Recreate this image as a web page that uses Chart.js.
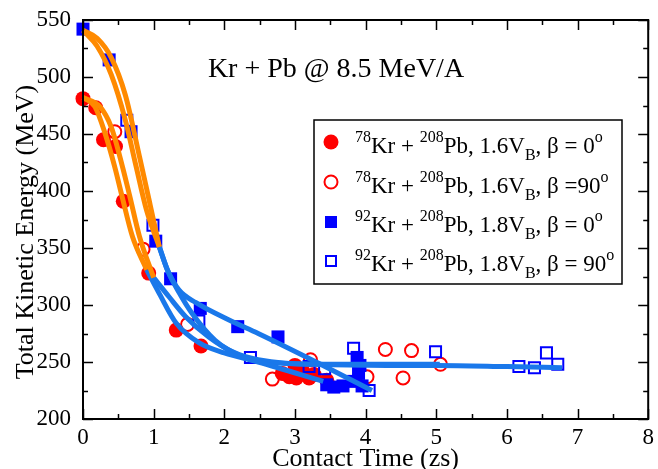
<!DOCTYPE html>
<html><head><meta charset="utf-8">
<script src="https://cdn.jsdelivr.net/npm/chart.js@4.4.0/dist/chart.umd.min.js"></script>
<style>html,body{margin:0;padding:0;background:#fff;}canvas{display:block;}</style>
</head><body>
<canvas id="c" width="658" height="469"></canvas>
<script>
// ---- data ----
const xRange = [0, 8];
const yRange = [200, 550];
const xStep = 1, yStep = 50;

const redFilled = [[0,481],[0.18,473],[0.29,445],[0.46,439],[0.57,391],[0.93,328],[1.32,278],[1.67,264],
  [2.82,240],[2.92,237],[3.0,247],[3.02,236],[3.12,241],[3.2,236],[3.27,239],[3.45,234]];
const redOpen = [[0.45,452],[0.85,349],[1.48,283],[2.68,235],[3.22,252],[4.02,237],[4.28,261],[4.53,236],[4.65,260],[5.06,248]];
const blueFilled = [[0,542],[0.37,515],[0.68,452],[1.03,356],[1.24,323],[1.66,297],[2.19,281],[2.76,272],
  [3.45,230],[3.55,228],[3.68,229],[3.83,233],[3.88,254],[3.92,247],[3.9,240],[3.95,229]];
const blueOpen = [[0.62,462],[0.99,370],[1.64,286],[2.37,254],[3.2,246],[3.42,244],[3.83,262],[4.05,225],
  [4.99,259],[6.17,246],[6.39,245],[6.56,258],[6.72,248]];

// fitted curves (orange: early part, blue: late part)
const fitR0Early = [[0,482],[0.17,474],[0.31,451],[0.45,421],[0.55,396],[0.7,360],[0.9,331]];
const fitR0Late = [[0.9,331],[1.08,310],[1.32,284],[1.64,267],[2.0,258],[2.48,250],[3.4,233]];
const fitR90Early = [[0,482],[0.24,474],[0.4,456],[0.56,421],[0.66,396],[0.8,360],[1.0,324]];
const fitR90Late = [[1.0,324],[1.22,307],[1.45,290],[1.78,272],[2.15,258],[2.48,252],[3.3,248],[4.3,248],[5.05,248]];
const fitB0Early = [[0,541],[0.2,534],[0.4,517],[0.6,484],[0.8,430],[0.95,388],[1.08,351]];
const fitB0Late = [[1.08,351],[1.2,330],[1.36,313],[1.6,302],[2.06,287],[2.48,275],[3.3,250],[4.09,225]];
const fitB90Early = [[0,541],[0.2,527],[0.4,502],[0.6,462],[0.75,422],[0.9,383],[1.08,351]];
const fitB90Late = [[1.08,351],[1.2,330],[1.36,311],[1.54,293],[1.87,269],[2.24,255],[2.48,251],[3.3,248],[4.3,247],[5,247],[6,246],[6.78,245]];

const chartTitle = 'Kr + Pb @ 8.5 MeV/A';
const xTitle = 'Contact Time (zs)';
const yTitle = 'Total Kinetic Energy (MeV)';
const legendRows = [
  [['78','sup'],['Kr + '],['208','sup'],['Pb, 1.6V'],['B','sub'],[', β = 0'],['o','sup']],
  [['78','sup'],['Kr + '],['208','sup'],['Pb, 1.6V'],['B','sub'],[', β =90'],['o','sup']],
  [['92','sup'],['Kr + '],['208','sup'],['Pb, 1.8V'],['B','sub'],[', β = 0'],['o','sup']],
  [['92','sup'],['Kr + '],['208','sup'],['Pb, 1.8V'],['B','sub'],[', β = 90'],['o','sup']]
];

// ---- styles ----
const RED = '#ff0000', BLUE = '#0000ff', ORANGE = '#ff8a00', LBLUE = '#1a78ea';
const SERIF = '"Liberation Serif", "Times New Roman", serif';
const pts = a => a.map(p => ({x: p[0], y: p[1]}));

function fit(data, color) {
  return {type: 'scatter', data: pts(data), showLine: true, borderColor: color, borderWidth: 5,
    pointRadius: 0, pointHoverRadius: 0, cubicInterpolationMode: 'monotone', order: 0, clip: false};
}
function marks(data, style, filled, color, r, order) {
  return {type: 'scatter', data: pts(data), pointStyle: style, pointRadius: r, pointHoverRadius: r,
    backgroundColor: filled ? color : 'rgba(0,0,0,0)', borderColor: color, borderWidth: filled ? 0 : 2,
    order: order, clip: false};
}

const decor = {
  id: 'decor',
  afterDraw(chart) {
    const ctx = chart.ctx, a = chart.chartArea, xs = chart.scales.x, ys = chart.scales.y;
    ctx.save();
    ctx.strokeStyle = '#000'; ctx.lineWidth = 2;
    ctx.strokeRect(a.left, a.top, a.right - a.left, a.bottom - a.top);
    ctx.lineWidth = 1.5;
    ctx.beginPath();
    for (let v = xRange[0]; v <= xRange[1] + 1e-9; v += xStep / 2) {
      const px = Math.round(xs.getPixelForValue(v)) + 0.5;
      const L = (Math.abs(v - Math.round(v)) < 1e-9) ? 10 : 5;
      ctx.moveTo(px, a.bottom); ctx.lineTo(px, a.bottom - L);
      ctx.moveTo(px, a.top); ctx.lineTo(px, a.top + L);
    }
    for (let v = yRange[0]; v <= yRange[1] + 1e-9; v += yStep / 2) {
      const py = Math.round(ys.getPixelForValue(v)) + 0.5;
      const L = (v % yStep === 0) ? 10 : 5;
      ctx.moveTo(a.left, py); ctx.lineTo(a.left + L, py);
      ctx.moveTo(a.right, py); ctx.lineTo(a.right - L, py);
    }
    ctx.stroke();

    ctx.fillStyle = '#000';
    ctx.textAlign = 'center'; ctx.textBaseline = 'alphabetic';
    ctx.font = '28px ' + SERIF;
    ctx.fillText(chartTitle, 336, 77);
    ctx.font = '26px ' + SERIF;
    ctx.fillText(xTitle, (a.left + a.right) / 2, 466);
    ctx.save();
    ctx.translate(33, 232); ctx.rotate(-Math.PI / 2);
    ctx.fillText(yTitle, 0, 0);
    ctx.restore();

    // legend
    const bx = 314, by = 120, bw = 308, bh = 164;
    ctx.fillStyle = '#fff'; ctx.fillRect(bx, by, bw, bh);
    ctx.strokeStyle = '#000'; ctx.lineWidth = 1.5; ctx.strokeRect(bx, by, bw, bh);
    const rowsY = [142, 182, 222, 261];
    const baseY = [153, 192.5, 232, 271];
    const mx = 331;
    // markers
    ctx.fillStyle = RED; ctx.beginPath(); ctx.arc(mx, rowsY[0], 7.5, 0, Math.PI * 2); ctx.fill();
    ctx.strokeStyle = RED; ctx.lineWidth = 2; ctx.beginPath(); ctx.arc(mx, rowsY[1], 6.5, 0, Math.PI * 2); ctx.stroke();
    ctx.fillStyle = BLUE; ctx.fillRect(mx - 6, rowsY[2] - 6, 12, 12);
    ctx.strokeStyle = BLUE; ctx.strokeRect(mx - 5, rowsY[3] - 5, 10, 10);
    ctx.fillStyle = '#000'; ctx.textAlign = 'left';
    legendRows.forEach((parts, i) => {
      let x = 355;
      for (const p of parts) {
        const kind = p[1];
        ctx.font = (kind ? '16px ' : '23px ') + SERIF;
        const dy = kind === 'sup' ? -11 : kind === 'sub' ? 7 : 0;
        ctx.fillText(p[0], x, baseY[i] + dy);
        x += ctx.measureText(p[0]).width;
      }
    });
    ctx.restore();
  }
};

new Chart(document.getElementById('c'), {
  type: 'scatter',
  data: {
    datasets: [
      fit(fitR0Early, ORANGE), fit(fitR90Early, ORANGE), fit(fitB0Early, ORANGE), fit(fitB90Early, ORANGE),
      fit(fitR0Late, LBLUE), fit(fitR90Late, LBLUE), fit(fitB0Late, LBLUE), fit(fitB90Late, LBLUE),
      marks(redFilled, 'circle', true, RED, 7.5, 4),
      marks(redOpen, 'circle', false, RED, 6.5, 3),
      marks(blueFilled, 'rect', true, BLUE, 9.2, 2),
      marks(blueOpen, 'rect', false, BLUE, 7.8, 1)
    ]
  },
  options: {
    responsive: false, animation: false, devicePixelRatio: 1,
    layout: {padding: {top: 20, right: 4, left: 0, bottom: 0}},
    plugins: {legend: {display: false}, tooltip: {enabled: false}, title: {display: false}},
    scales: {
      x: {type: 'linear', min: xRange[0], max: xRange[1],
        grid: {display: false}, border: {display: false},
        ticks: {stepSize: xStep, color: '#000', padding: -3, font: {family: SERIF, size: 23}},
        afterFit(s) { s.height = 50; }},
      y: {type: 'linear', min: yRange[0], max: yRange[1],
        grid: {display: false}, border: {display: false},
        ticks: {stepSize: yStep, color: '#000', padding: 4, font: {family: SERIF, size: 23}},
        afterFit(s) { s.width = 83; }}
    }
  },
  plugins: [decor]
});
</script>
</body></html>
